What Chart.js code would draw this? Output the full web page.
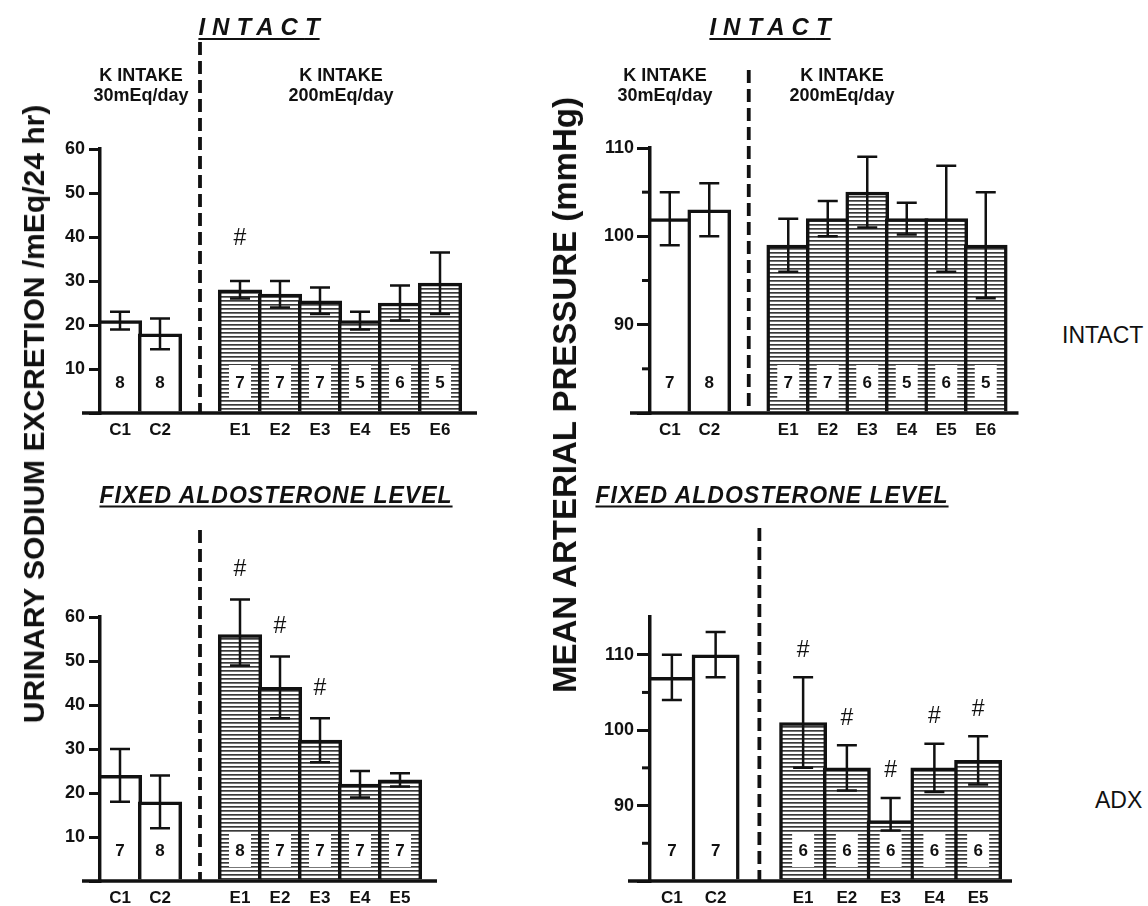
<!DOCTYPE html>
<html>
<head>
<meta charset="utf-8">
<script src="https://cdn.jsdelivr.net/npm/chart.js@4.4.1/dist/chart.umd.min.js"></script>
<style>
  body { margin: 0; background: #fff; width: 1148px; height: 906px; position: relative; overflow: hidden;
         font-family: "Liberation Sans", Arial, sans-serif; color: #111; }
  canvas { position: absolute; }
  .t { position: absolute; transform: translate(-50%, -50%); white-space: nowrap; }
  .hdr { font: italic bold 24px "Liberation Sans", Arial, sans-serif; letter-spacing: 7px;
         text-decoration: underline; text-decoration-thickness: 2px; text-underline-offset: 3px; }
  .hdr span { letter-spacing: 0; }
  .k { font: bold 18px "Liberation Sans", Arial, sans-serif; text-align: center; line-height: 20px; }
  .fix { font: italic bold 23px "Liberation Sans", Arial, sans-serif; letter-spacing: 1px;
         text-decoration: underline; text-decoration-thickness: 2px; text-underline-offset: 3px; }
  .ytl { position: absolute; white-space: nowrap; font: bold 30px "Liberation Sans", Arial, sans-serif;
         transform: translate(-50%, -50%) rotate(-90deg); }
  .side { position: absolute; white-space: nowrap; font: 23px "Liberation Sans", Arial, sans-serif; transform: translateY(-50%); }
</style>
</head>
<body>
<canvas id="tl" width="520" height="450" style="left:0;top:0"></canvas>
<canvas id="tr" width="500" height="450" style="left:550px;top:0"></canvas>
<canvas id="bl" width="520" height="436" style="left:0;top:470px"></canvas>
<canvas id="br" width="500" height="436" style="left:550px;top:470px"></canvas>

<div class="t hdr" style="left:259px;top:27px">INTAC<span>T</span></div>
<div class="t hdr" style="left:770px;top:27px">INTAC<span>T</span></div>
<div class="t k" style="left:141px;top:85px">K INTAKE<br>30mEq/day</div>
<div class="t k" style="left:341px;top:85px">K INTAKE<br>200mEq/day</div>
<div class="t k" style="left:665px;top:85px">K INTAKE<br>30mEq/day</div>
<div class="t k" style="left:842px;top:85px">K INTAKE<br>200mEq/day</div>
<div class="t fix" style="left:276px;top:495px">FIXED ALDOSTERONE LEVEL</div>
<div class="t fix" style="left:772px;top:495px">FIXED ALDOSTERONE LEVEL</div>
<div class="ytl" style="left:34px;top:414px">URINARY SODIUM EXCRETION /mEq/24 hr)</div>
<div class="ytl" style="left:565px;top:395px;font-size:33px">MEAN ARTERIAL PRESSURE (mmHg)</div>
<div class="side" style="left:1062px;top:335px">INTACT</div>
<div class="side" style="left:1095px;top:800px">ADX</div>

<script>
// 上段 = INTACT, 下段 = FIXED ALDOSTERONE (ADX)
const catsIntact = ['C1', 'C2', '', 'E1', 'E2', 'E3', 'E4', 'E5', 'E6'];
const catsAdx = ['C1', 'C2', '', 'E1', 'E2', 'E3', 'E4', 'E5'];

// 尿中Na排泄 (mEq/24 hr)
const naIntact   = [21, 18, null, 28, 27, 25.5, 21, 25, 29.5];
const naIntactHi = [23, 21.5, null, 30, 30, 28.5, 23, 29, 36.5];
const naIntactLo = [19, 14.5, null, 26, 24, 22.5, 19, 21, 22.5];
const naIntactN  = [8, 8, null, 7, 7, 7, 5, 6, 5];
const naIntactSig = [0, 0, 0, 1, 0, 0, 0, 0, 0];

const naAdx   = [24, 18, null, 56, 44, 32, 22, 23];
const naAdxHi = [30, 24, null, 64, 51, 37, 25, 24.5];
const naAdxLo = [18, 12, null, 49, 37, 27, 19, 21.5];
const naAdxN  = [7, 8, null, 8, 7, 7, 7, 7];
const naAdxSig = [0, 0, 0, 1, 1, 1, 0, 0];

// 平均動脈圧 (mmHg)
const mapIntact   = [102, 103, null, 99, 102, 105, 102, 102, 99];
const mapIntactHi = [105, 106, null, 102, 104, 109, 103.8, 108, 105];
const mapIntactLo = [99, 100, null, 96, 100, 101, 100.2, 96, 93];
const mapIntactN  = [7, 8, null, 7, 7, 6, 5, 6, 5];
const mapIntactSig = [0, 0, 0, 0, 0, 0, 0, 0, 0];

const mapAdx   = [107, 110, null, 101, 95, 88, 95, 96];
const mapAdxHi = [110, 113, null, 107, 98, 91, 98.2, 99.2];
const mapAdxLo = [104, 107, null, 95, 92, 86.7, 91.8, 92.8];
const mapAdxN  = [7, 7, null, 6, 6, 6, 6, 6];
const mapAdxSig = [0, 0, 0, 1, 1, 1, 1, 1];

const INK = '#111';
const FONT = '"Liberation Sans", Arial, sans-serif';
Chart.defaults.font.family = FONT;

// 横縞パターン
const tile = document.createElement('canvas');
tile.width = 8; tile.height = 4;
const tg = tile.getContext('2d');
tg.fillStyle = '#fff'; tg.fillRect(0, 0, 8, 4);
tg.fillStyle = '#3a3a3a'; tg.fillRect(0, 0, 8, 1);
tg.fillStyle = '#777'; tg.fillRect(0, 1, 8, 1);
const stripes = tg.createPattern(tile, 'repeat');

const decor = o => ({
  id: 'decor',
  afterDatasetsDraw(chart) {
    const { ctx, chartArea: a, scales: { x, y } } = chart;
    ctx.save();
    ctx.strokeStyle = INK;
    ctx.fillStyle = INK;

    // 基線
    ctx.lineWidth = 3.5;
    ctx.beginPath();
    ctx.moveTo(a.left - o.ext[0], a.bottom);
    ctx.lineTo(a.right + o.ext[1], a.bottom);
    ctx.stroke();

    // 区切りの破線
    const dx = x.getPixelForValue(2);
    ctx.lineWidth = 3.8;
    ctx.setLineDash([13, 6]);
    ctx.beginPath();
    ctx.moveTo(dx, o.dashTop);
    ctx.lineTo(dx, a.bottom);
    ctx.stroke();
    ctx.setLineDash([]);

    // 補助目盛
    ctx.lineWidth = 3;
    y.ticks.forEach(t => {
      if (t.value % 10 === 5 && t.value < o.max) {
        const py = y.getPixelForValue(t.value);
        ctx.beginPath();
        ctx.moveTo(a.left, py);
        ctx.lineTo(a.left - 8, py);
        ctx.stroke();
      }
    });

    // n数
    ctx.font = 'bold 17px ' + FONT;
    ctx.textAlign = 'center';
    ctx.textBaseline = 'middle';
    o.n.forEach((n, i) => {
      if (n == null) return;
      const px = x.getPixelForValue(i), py = a.bottom - 31;
      ctx.fillStyle = '#fff';
      ctx.fillRect(px - 11, py - 17, 22, 34);
      ctx.fillStyle = INK;
      ctx.fillText(n, px, py + 1);
    });

    // SEM
    ctx.lineWidth = 2.5;
    o.values.forEach((v, i) => {
      if (v == null) return;
      const px = x.getPixelForValue(i);
      const hi = y.getPixelForValue(o.hi[i]), lo = y.getPixelForValue(o.lo[i]);
      ctx.beginPath();
      ctx.moveTo(px, hi); ctx.lineTo(px, lo);
      ctx.moveTo(px - 10, hi); ctx.lineTo(px + 10, hi);
      ctx.moveTo(px - 10, lo); ctx.lineTo(px + 10, lo);
      ctx.stroke();
    });

    // 有意差
    ctx.font = '23px ' + FONT;
    o.sig.forEach((s, i) => {
      if (!s) return;
      ctx.fillText('#', x.getPixelForValue(i), y.getPixelForValue(o.hi[i]) - o.sigOff);
    });
    ctx.restore();
  }
});

function panel(id, o) {
  const bw = 3.5;
  return new Chart(document.getElementById(id), {
    type: 'bar',
    data: {
      labels: o.cats,
      datasets: [{
        data: o.values,
        backgroundColor: o.cats.map(c => c.startsWith('E') ? stripes : '#fff'),
        borderColor: INK,
        borderWidth: bw,
        barThickness: o.slot + bw,
        base: o.min,
        clip: false
      }]
    },
    options: {
      responsive: false,
      animation: false,
      layout: { padding: o.pad },
      plugins: { legend: { display: false }, tooltip: { enabled: false } },
      scales: {
        x: {
          grid: { display: false, drawTicks: false },
          border: { display: false },
          ticks: { color: INK, font: { size: 17, weight: 'bold' }, padding: 7 },
          afterFit: s => { s.height = o.xh; }
        },
        y: {
          min: o.min, max: o.max,
          ticks: {
            stepSize: o.step, autoSkip: false, color: INK,
            font: { size: 18, weight: 'bold' }, padding: o.tpad,
            callback: v => (v % 10 === 0 && v !== o.min ? v : '')
          },
          grid: {
            drawOnChartArea: false, tickLength: o.tl, lineWidth: 3, color: INK,
            tickColor: c => (c.tick && c.tick.value % 10 === 0 ? INK : 'rgba(0,0,0,0)')
          },
          border: { color: INK, width: 3.5 },
          afterFit: s => { s.width = 100; }
        }
      }
    },
    plugins: [decor(o)]
  });
}

panel('tl', {
  cats: catsIntact, values: naIntact, hi: naIntactHi, lo: naIntactLo, n: naIntactN, sig: naIntactSig,
  min: 0, max: 60, step: 10, slot: 40, tl: 11, tpad: 4,
  pad: { left: 0, right: 60, top: 149, bottom: 7 }, xh: 30,
  ext: [18, 17], dashTop: 42, sigOff: 42
});
panel('tr', {
  cats: catsIntact, values: mapIntact, hi: mapIntactHi, lo: mapIntactLo, n: mapIntactN, sig: mapIntactSig,
  min: 80, max: 110, step: 5, slot: 39.5, tl: 13, tpad: 3,
  pad: { left: 0, right: 44.5, top: 148, bottom: 7 }, xh: 30,
  ext: [20, 13], dashTop: 70, sigOff: 27
});
panel('bl', {
  cats: catsAdx, values: naAdx, hi: naAdxHi, lo: naAdxLo, n: naAdxN, sig: naAdxSig,
  min: 0, max: 60, step: 10, slot: 40, tl: 11, tpad: 4,
  pad: { left: 0, right: 100, top: 147, bottom: 0 }, xh: 25,
  ext: [18, 17], dashTop: 60, sigOff: 30
});
panel('br', {
  cats: catsAdx, values: mapAdx, hi: mapAdxHi, lo: mapAdxLo, n: mapAdxN, sig: mapAdxSig,
  min: 80, max: 115, step: 5, slot: 43.75, tl: 13, tpad: 3,
  pad: { left: 0, right: 50, top: 147, bottom: 0 }, xh: 25,
  ext: [22, 12], dashTop: 58, sigOff: 27
});
</script>
</body>
</html>
